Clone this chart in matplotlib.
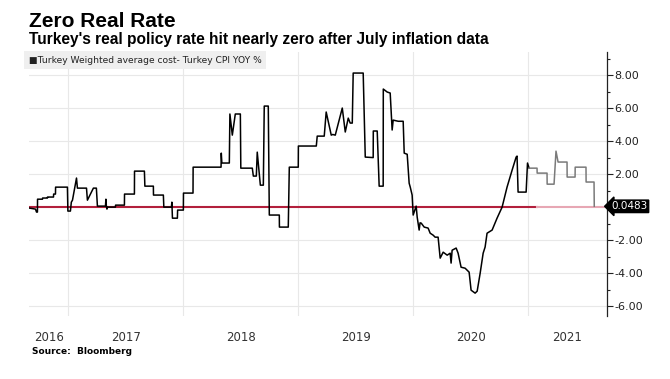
#!/usr/bin/env python3
"""
Turkey real policy rate (weighted avg cost of funding minus CPI YoY).
Saves out.png
"""

import numpy as np
import matplotlib.pyplot as plt
from matplotlib.ticker import MultipleLocator, FormatStrFormatter

# ── Data (decimal year, % points) ────────────────────────────────────────────

years = [
    2016.661, 2016.713, 2016.722, 2016.730, 2016.731, 2016.774, 2016.775, 2016.817,
    2016.818, 2016.870, 2016.871, 2016.887, 2016.888, 2016.991, 2016.995, 2017.017,
    2017.025, 2017.035, 2017.070, 2017.078, 2017.157, 2017.165, 2017.217, 2017.243,
    2017.252, 2017.322, 2017.326, 2017.330, 2017.335, 2017.339, 2017.409, 2017.410,
    2017.487, 2017.488, 2017.574, 2017.575, 2017.661, 2017.665, 2017.739, 2017.740,
    2017.826, 2017.830, 2017.896, 2017.900, 2017.905, 2017.948, 2017.950, 2018.000,
    2018.001, 2018.084, 2018.085, 2018.328, 2018.330, 2018.335, 2018.400, 2018.405,
    2018.426, 2018.452, 2018.496, 2018.500, 2018.600, 2018.609, 2018.635, 2018.643,
    2018.670, 2018.696, 2018.704, 2018.739, 2018.748, 2018.835, 2018.836, 2018.913,
    2018.922, 2019.000, 2019.001, 2019.157, 2019.165, 2019.226, 2019.243, 2019.287,
    2019.300, 2019.322, 2019.383, 2019.409, 2019.435, 2019.452, 2019.470, 2019.478,
    2019.565, 2019.583, 2019.652, 2019.653, 2019.687, 2019.704, 2019.739, 2019.740,
    2019.774, 2019.800, 2019.817, 2019.826, 2019.870, 2019.913, 2019.922, 2019.948,
    2019.965, 2019.975, 2019.991, 2020.000, 2020.026, 2020.035, 2020.052, 2020.060,
    2020.070, 2020.096, 2020.130, 2020.148, 2020.174, 2020.191, 2020.217, 2020.235,
    2020.261, 2020.296, 2020.322, 2020.330, 2020.339, 2020.374, 2020.391, 2020.417,
    2020.452, 2020.487, 2020.504, 2020.539, 2020.557, 2020.583, 2020.609, 2020.626,
    2020.643, 2020.687, 2020.730, 2020.774, 2020.817, 2020.861, 2020.896, 2020.904,
    2020.913, 2020.983, 2020.995, 2021.009,
]
values = [
    -0.06, -0.12, -0.30, -0.30, 0.48, 0.48, 0.55, 0.55,
    0.61, 0.61, 0.79, 0.79, 1.21, 1.21, -0.24, -0.24,
    0.30, 0.42, 1.76, 1.15, 1.15, 0.42, 1.15, 1.15,
    0.06, 0.06, 0.48, 0.06, -0.12, 0.00, 0.00, 0.12,
    0.12, 0.79, 0.79, 2.18, 2.18, 1.27, 1.27, 0.73,
    0.73, 0.00, 0.00, 0.30, -0.67, -0.67, -0.18, -0.18,
    0.85, 0.85, 2.42, 2.42, 3.27, 2.67, 2.67, 5.64,
    4.36, 5.64, 5.64, 2.36, 2.36, 1.88, 1.88, 3.33,
    1.33, 1.33, 6.12, 6.12, -0.48, -0.48, -1.21, -1.21,
    2.42, 2.42, 3.70, 3.70, 4.30, 4.30, 5.76, 4.36,
    4.40, 4.36, 6.00, 4.55, 5.39, 5.09, 5.09, 8.12,
    8.12, 3.03, 3.00, 4.61, 4.61, 1.27, 1.27, 7.15,
    6.97, 6.91, 4.67, 5.27, 5.20, 5.20, 3.27, 3.20,
    1.45, 1.20, 0.73, -0.48, 0.06, -0.61, -1.39, -0.95,
    -0.97, -1.21, -1.27, -1.58, -1.70, -1.82, -1.82, -3.09,
    -2.73, -2.91, -2.79, -3.39, -2.61, -2.48, -2.79, -3.64,
    -3.70, -3.94, -5.03, -5.21, -5.09, -4.00, -2.79, -2.42,
    -1.58, -1.39, -0.67, 0.00, 1.21, 2.24, 3.03, 3.09,
    0.91, 0.91, 2.67, 2.36,
]

# 2021 portion (drawn lighter on the original)
years_21 = [
    2021.009, 2021.078, 2021.079, 2021.165, 2021.166, 2021.226, 2021.243, 2021.261,
    2021.339, 2021.340, 2021.409, 2021.410, 2021.504, 2021.505, 2021.574, 2021.576,
]
values_21 = [
    2.36, 2.36, 2.06, 2.06, 1.39, 1.39, 3.39, 2.73,
    2.73, 1.82, 1.82, 2.42, 2.42, 1.52, 1.52, 0.05,
]

last_value = 0.0483
year_labels = ["2016", "2017", "2018", "2019", "2020", "2021"]

# ── Plot ──────────────────────────────────────────────────────────────────────

fig = plt.figure(figsize=(6.7, 3.79), dpi=100)
ax = fig.add_axes([0.043, 0.166, 0.863, 0.697])

x0, x1 = 2016.655, 2021.687
ax.set_xlim(x0, x1)
ax.set_ylim(-6.6, 9.4)

grid_c = "#e8e8e8"
for yv in range(-6, 10, 2):
    if yv != 0:
        ax.axhline(yv, color=grid_c, lw=0.8, zorder=0)
for yr in range(2017, 2022):
    ax.axvline(yr, color=grid_c, lw=0.8, zorder=0)

red = "#b21f3c"
ax.plot([x0, 2021.078], [0, 0], color=red, lw=1.5, zorder=2)
ax.plot([2021.078, x1], [0, 0], color="#e7a7b4", lw=1.5, zorder=2)

ax.plot(years, values, color="black", lw=1.1, zorder=3)
ax.plot(years_21, values_21, color="#7a7a7a", lw=1.1, zorder=3)

# year labels centred on the visible part of each year
centers = []
for i, lab in enumerate(year_labels):
    y_start = max(2016 + i, x0)
    y_end = min(2017 + i, x1)
    centers.append((y_start + y_end) / 2)
ax.set_xticks(centers)
ax.set_xticklabels(year_labels, fontsize=8.5, color="#333333")
ax.tick_params(axis="x", length=0, pad=11)

ax.yaxis.tick_right()
ax.yaxis.set_major_locator(MultipleLocator(2))
ax.yaxis.set_minor_locator(MultipleLocator(1))
ax.yaxis.set_major_formatter(FormatStrFormatter("%.2f"))
ax.set_yticks([-6, -4, -2, 2, 4, 6, 8])
ax.tick_params(axis="y", which="major", length=4, width=0.8, pad=1,
               labelsize=8, colors="#222222")
ax.tick_params(axis="y", which="minor", length=2, width=0.8, colors="#222222")

for s in ["top", "left", "bottom"]:
    ax.spines[s].set_visible(False)
ax.spines["right"].set_color("#222222")
ax.spines["right"].set_linewidth(0.9)

# last value tag
ax.annotate(f"{last_value:.4f}", xy=(1.0, last_value),
            xycoords=("axes fraction", "data"),
            xytext=(3, 0), textcoords="offset points",
            ha="left", va="center", fontsize=7.5, color="white",
            bbox=dict(boxstyle="larrow,pad=0.12", fc="black", ec="black"))

# legend box
ax.text(0.0, 0.985, "\u25a0Turkey Weighted average cost- Turkey CPI YOY %",
        transform=ax.transAxes, ha="left", va="top", fontsize=6.6,
        color="#222222",
        bbox=dict(boxstyle="square,pad=0.5", fc="#efefef", ec="none"))

fig.text(0.043, 0.968, "Zero Real Rate", fontsize=15, fontweight="bold",
         ha="left", va="top", family="Liberation Sans")
fig.text(0.043, 0.915,
         "Turkey's real policy rate hit nearly zero after July inflation data",
         fontsize=11.2, fontweight="bold", ha="left", va="top",
         family="Liberation Sans")
fig.text(0.048, 0.072, "Source:  Bloomberg", fontsize=6.5, fontweight="bold",
         ha="left", va="center")

fig.savefig("out.png", dpi=100)
plt.close(fig)
